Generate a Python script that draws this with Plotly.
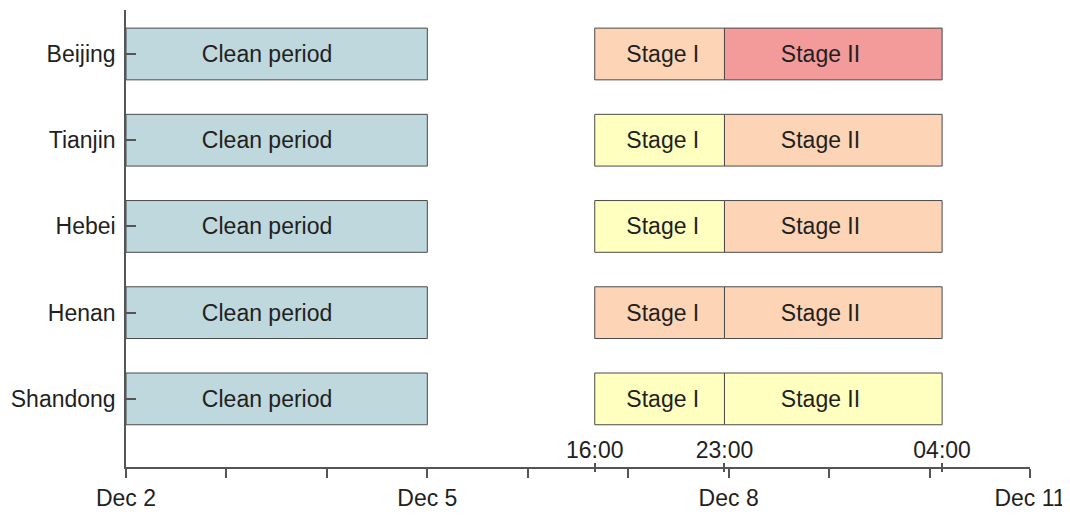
import pandas as pd
import plotly.graph_objects as go

regions = ["Beijing", "Tianjin", "Hebei", "Henan", "Shandong"]
clean_start = "2013-12-02 00:00"
clean_end = "2013-12-05 00:00"
stage1_start = "2013-12-06 16:00"
stage1_end = "2013-12-07 23:00"
stage2_end = "2013-12-10 03:00"

stage1_colors = ["#fdd5b6", "#ffffc0", "#ffffc0", "#fdd5b6", "#ffffc0"]
stage2_colors = ["#f39a9a", "#fdd5b6", "#fdd5b6", "#fdd5b6", "#ffffc0"]
clean_color = "#bed8de"

day_ticks = pd.date_range("2013-12-02", "2013-12-11", freq="D")
day_labels = ["Dec 2", "", "", "Dec 5", "", "", "Dec 8", "", "", "Dec 11"]
time_ticks = [stage1_start, stage1_end, stage2_end]
time_labels = ["16:00", "23:00", "04:00"]

FONT = "Liberation Sans, Arial, sans-serif"
FS = 23
TXT = "#231f20"
AX = "#555555"
NB = "\u00a0"


def dur_ms(a, b):
    return (pd.Timestamp(b) - pd.Timestamp(a)).total_seconds() * 1000


fig = go.Figure()

segments = [
    ("Clean period" + NB * 3, clean_start, clean_end, [clean_color] * len(regions)),
    (NB + "Stage I", stage1_start, stage1_end, stage1_colors),
    ("Stage II" + NB * 4, stage1_end, stage2_end, stage2_colors),
]
for label, s, e, cols in segments:
    fig.add_trace(go.Bar(
        orientation="h",
        y=regions,
        x=[dur_ms(s, e)] * len(regions),
        base=[s] * len(regions),
        width=0.6,
        marker=dict(color=cols, line=dict(color="#4a4a4a", width=1)),
        text=[label] * len(regions),
        textposition="inside",
        insidetextanchor="middle",
        textangle=0,
        constraintext="none",
        textfont=dict(family=FONT, size=FS, color=TXT),
        hoverinfo="skip",
        showlegend=False,
    ))

# invisible helpers for the overlay time axes
for ax in ["x2", "x3"]:
    fig.add_trace(go.Scatter(x=time_ticks, y=[regions[0]] * 3, mode="markers",
                             marker=dict(opacity=0), xaxis=ax, yaxis="y",
                             hoverinfo="skip", showlegend=False))

xrange = ["2013-12-02 00:00", "2013-12-11 00:00"]

# page body has an 8px margin, so the figure is sized/offset to compensate
fig.update_layout(
    width=1062, height=510,
    margin=dict(l=118, r=40, t=2, b=51, autoexpand=False),
    plot_bgcolor="white", paper_bgcolor="white",
    barmode="overlay",
    font=dict(family=FONT, size=FS, color=TXT),
    xaxis=dict(
        type="date", range=xrange, automargin=False,
        tickmode="array", tickvals=list(day_ticks), ticktext=day_labels,
        ticks="outside", ticklen=9, tickwidth=1.5, tickcolor=AX,
        showline=True, linecolor=AX, linewidth=1.5,
        showgrid=False, zeroline=False,
        tickfont=dict(family=FONT, size=FS, color=TXT),
        ticklabelstandoff=1,
    ),
    xaxis2=dict(
        type="date", range=xrange, overlaying="x", anchor="y", side="bottom",
        automargin=False,
        tickmode="array", tickvals=time_ticks, ticktext=time_labels,
        ticks="inside", ticklen=4, tickwidth=1.5, tickcolor=AX,
        ticklabelposition="inside", ticklabelstandoff=2,
        showline=False, showgrid=False, zeroline=False,
        tickfont=dict(family=FONT, size=FS, color=TXT),
    ),
    xaxis3=dict(
        type="date", range=xrange, overlaying="x", anchor="y", side="bottom",
        automargin=False,
        tickmode="array", tickvals=time_ticks, ticktext=["", "", ""],
        ticks="outside", ticklen=4, tickwidth=1.5, tickcolor=AX,
        showticklabels=False,
        showline=False, showgrid=False, zeroline=False,
    ),
    yaxis=dict(
        type="category", categoryorder="array", categoryarray=regions[::-1],
        range=[-0.79, 4.51], automargin=False,
        ticks="inside", ticklen=10, tickwidth=1.5, tickcolor=AX,
        showline=True, linecolor=AX, linewidth=1.5,
        showgrid=False, zeroline=False,
        tickfont=dict(family=FONT, size=FS, color=TXT),
        ticklabelstandoff=4,
    ),
)

fig.write_html("out.html")
